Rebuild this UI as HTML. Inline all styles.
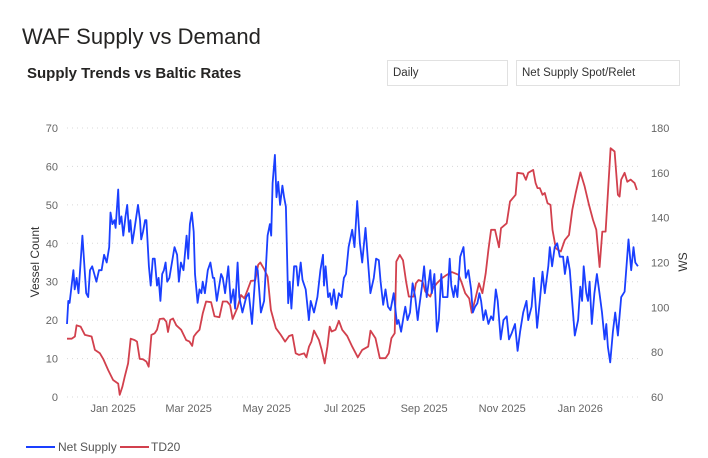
<!DOCTYPE html>
<html><head><meta charset="utf-8"><style>
body{margin:0;width:708px;height:458px;background:#fff;font-family:"Liberation Sans",sans-serif;overflow:hidden;position:relative}
.t{position:absolute;color:#252423}
.dd{position:absolute;border:1px solid #e1e1e1;box-sizing:border-box;height:26px;font-size:11.5px;color:#333;padding:6px 5px;background:#fff}
</style></head><body>
<div class="t" style="left:22px;top:24px;font-size:22px">WAF Supply vs Demand</div>
<div class="t" style="left:27px;top:65px;font-size:15px;font-weight:bold">Supply Trends vs Baltic Rates</div>
<div class="dd" style="left:387px;top:60px;width:121px">Daily</div>
<div class="dd" style="left:516px;top:60px;width:164px">Net Supply Spot/Relet</div>
<svg id="c" width="708" height="458" style="position:absolute;left:0;top:0"></svg>
<script>
const startDate=new Date(2024,10,26);
const leftTicks=[0,10,20,30,40,50,60,70];
const rightTicks=[60,80,100,120,140,160,180];
const xTickLabels=["Jan 2025","Mar 2025","May 2025","Jul 2025","Sep 2025","Nov 2025","Jan 2026"];
const xTickDates=["2025-01-01","2025-03-01","2025-05-01","2025-07-01","2025-09-01","2025-11-01","2026-01-01"];
const supplyDays=[0,1,2,5,6,7.5,9,12,15,16.6,18,19.7,23,25,27,29,31,33,34,35.5,37,38,40,41,42.5,44,45.7,47,48.5,49.5,51,52.4,55.5,57,58,59.4,61,62,64,65.4,67,68.5,70.3,71.6,73,74.4,75.7,77,78.3,80,84,86,87.4,89,91,93.4,94.7,96,97.5,99,100,102,103.5,105,106,107.7,110,112,114,115,117,120.4,121.7,123.5,126,128,130,131.3,133.3,134.6,137,140,142,144.5,147.6,149,151.5,154,156.7,158.5,159.5,160.6,162.4,163.7,165,166.5,168.3,169.6,171,172.8,174,175.3,177.4,179.2,180.5,182.6,184,186.5,189,190.4,193,195.6,198,200,200.8,202,204,205.4,206.7,208.5,210.4,212.4,214.5,216.3,218,220,222.8,224.6,226.7,228.8,230.6,233.2,235,237,239.7,241.5,243.6,245,247,248.8,250.8,252.7,255.2,257.8,259,261,263,264.3,266,268,270,272,274,275,277.3,279,281,283.8,285,287,289,290.5,292.4,293.7,295.5,297.3,299,300.2,302,303.3,305,307.2,309.8,311.6,313.6,315.7,317,318.8,320.6,322.2,323.5,325.3,327,329.2,331.3,333,335,336.5,338.8,341,343.5,345.3,347.4,350,352,354,356.4,359,360.3,363,364.8,367.3,369.4,371.5,373.3,376,377.2,379,381,383,385,387.6,389,391,392.8,394.6,396.7,399.3,401,402.4,403.7,405.7,407,408.3,410,412,414,416,418,420,421.3,422.6,424.4,426.5,428.3,430.4,433,435.6,438.7,440.8,442.6,444,446];
const supplyValues=[19,25,24.5,33,28,31,27,42,27,26,33,34,30,33,33,37,35,39,48,45,46,44,54,45,47,42,47,50,43,46,40,43,50,46,41,43,46,46,34,29,36,36,29,31,25,32,33,35,30,31,39,37,30,35,33,42,36,45,48,43,32,24.5,28,27,30,27,33,35,31,31,25,32,31,27,34,24.5,28,23,35,26,22,26,27,19,34,33,22,25,42,45,42,55.6,63,52,56,50,55,52,49.5,24.4,30,23,34,34,29,35,30.5,28,20,25,22,26,33,37,29,34,26,27,24,28,23,27,26,31,32,39,43.5,39,51,40,35,44,36,27,31,36,35.6,30,24,28,23.5,22.6,27,19,20,17,21,23.5,20,22,29.6,26,20,23,28.7,34,26,33,27,32,17,20,32,26,26,26,36,29,26,29,26,36.5,39,31,33,28,22,23.5,24.4,27,25,20,22.6,19,21,20,28,25,15,20,21,15,16.6,19,12,17,22,25,20,23.5,31,18,25,32.6,27,34,39,34,39,40,36.5,36.5,32,36.5,33,25,16,20,28.7,25,34,27,25,30,19,27,32,27,22,15,19,13,9,17,22,16,26,27.4,41,33,39,35,34];
const td20Days=[0,3.6,6.2,7.5,10.6,14,19.2,21.8,25.7,28.3,32.2,36,40,41.2,43.3,45.1,47.7,49.8,52.9,54.7,56.8,59.4,62,63.8,65.9,68.5,70.3,72.4,75.5,77.6,78.9,80.7,82.8,85.4,89.2,93.1,95.7,97.8,99.1,100.9,103.5,106.1,108.7,112.6,115.2,119.1,121.7,125,127.4,129.4,133.3,135.9,138.5,141.1,143.7,147,149.4,151,154.1,156.7,159.3,163.2,167,170.4,173.5,176.1,178.7,181.3,185.2,187,189.1,190.9,193,196.9,199,201.3,203.4,205.2,206.7,209.8,212.4,215,218.9,222.8,227.2,230.6,235.3,237.1,241,244.4,248.8,251.4,253.4,256,257.3,260,262.5,264.9,267,270.8,272.6,274.7,277.8,279.9,283.8,285.9,289,292.9,296.8,300.7,305.9,308.5,311.1,314.2,316.2,318.8,321.9,324.5,327.1,329.2,331.3,334.4,337.5,339.1,343.5,346.1,350.5,351.8,356.4,358.5,360.3,364.2,366.1,367.6,369.4,371.5,373.3,375.4,377.7,379.3,381.9,383.7,385.8,388.9,392.2,394.8,397.4,401.1,404.4,407.8,410.9,413.5,416.1,418.2,420.8,424.7,427.8,430.4,431.7,433,435.6,437.7,440.3,443.4,445.2];
const td20Values=[86,86,87,92,91.4,87.7,87,81,79.5,77,72,67.6,66,61,64.6,69,75,86,85.4,84.7,77,76.8,75.8,73.5,87.7,88.4,90,94.8,95,93.6,89,94.4,95,92,90,85.4,84.7,82.8,87,88.4,90,97.4,102.6,102.3,96,95.6,102.6,102.6,101,94.8,100,105.5,104,107.8,111.8,112,119,120,117,113.7,98.8,90.7,87.7,84.7,87.2,87.7,79.5,78.8,79.5,77.7,82.5,84.7,89.6,85.4,81,75,82.5,91.4,89.2,90,94,90,87.2,82.5,77.7,81,82.5,89.6,86.2,77.3,77.3,79.5,86.2,88.4,120.4,123.4,121,111.5,104.8,104.8,110.7,112.2,111.5,107,104.8,108.5,110.7,113,114.5,115.7,114.5,110.7,106.3,104,97.6,103.3,110.7,106.3,115.2,125.6,134.6,134.6,126.8,135.3,137.5,147.2,150.2,160,159.6,156.9,160,161.3,155.4,153.2,153.2,150.2,151,146.5,145.7,134.6,126.4,125.6,124.9,130,132.3,143.5,151,160.2,154,145.7,139,134.6,118,133.8,133.8,171,169.5,150.2,149.4,157,160,156,157,155.4,152.4];

const X0=67,PXD=1.28;
const xScale=d=>X0+d*PXD;
const yL=v=>397-v*(269/70);
const yR=v=>397-(v-60)*(269/120);
const dayOf=s=>Math.round((new Date(s+"T00:00:00")-startDate)/86400000);
const svg=document.getElementById('c');
const NS="http://www.w3.org/2000/svg";
function mk(tag,attrs,txt){const e=document.createElementNS(NS,tag);for(const k in attrs)e.setAttribute(k,attrs[k]);if(txt!==undefined)e.textContent=txt;svg.appendChild(e);return e;}

leftTicks.forEach(v=>{
  const g=mk('line',{x1:67,x2:642,y1:yL(v),y2:yL(v),stroke:'#d8d8d8','stroke-dasharray':'1,4','stroke-width':1});
  
  
  const t=mk('text',{x:58,y:yL(v)+4,'text-anchor':'end','font-size':11,fill:'#666'},v);
  
  
});
rightTicks.forEach(v=>{
  const t=mk('text',{x:651,y:yR(v)+4,'text-anchor':'start','font-size':11,fill:'#666'},v);
  
  
});
xTickLabels.forEach((l,i)=>{
  const t=mk('text',{x:xScale(dayOf(xTickDates[i])),y:412,'text-anchor':'middle','font-size':11,fill:'#666'},l);
  
  
});
const yt=mk('text',{x:0,y:0,transform:'translate(39,262) rotate(-90)','text-anchor':'middle','font-size':12,fill:'#333'},'Vessel Count');


const rt=mk('text',{x:0,y:0,transform:'translate(687,262) rotate(-90)','text-anchor':'middle','font-size':12,fill:'#333'},'WS');



const td=mk('path',{d:td20Days.map((d,i)=>(i?'L':'M')+xScale(d).toFixed(1)+','+yR(td20Values[i]).toFixed(1)).join(''),fill:'none',stroke:'#d2404d','stroke-width':1.8,'stroke-linejoin':'round'});


const sp=mk('path',{d:supplyDays.map((d,i)=>(i?'L':'M')+xScale(d).toFixed(1)+','+yL(supplyValues[i]).toFixed(1)).join(''),fill:'none',stroke:'#1a3fff','stroke-width':1.8,'stroke-linejoin':'round'});



const l1=mk('line',{x1:26,x2:55,y1:447,y2:447,stroke:'#1a3fff','stroke-width':2});


const lt1=mk('text',{x:58,y:451,'font-size':12,fill:'#555'},'Net Supply');


const l2=mk('line',{x1:120,x2:149,y1:447,y2:447,stroke:'#d2404d','stroke-width':2});


const lt2=mk('text',{x:151,y:451,'font-size':12,fill:'#555'},'TD20');


</script>
</body></html>
